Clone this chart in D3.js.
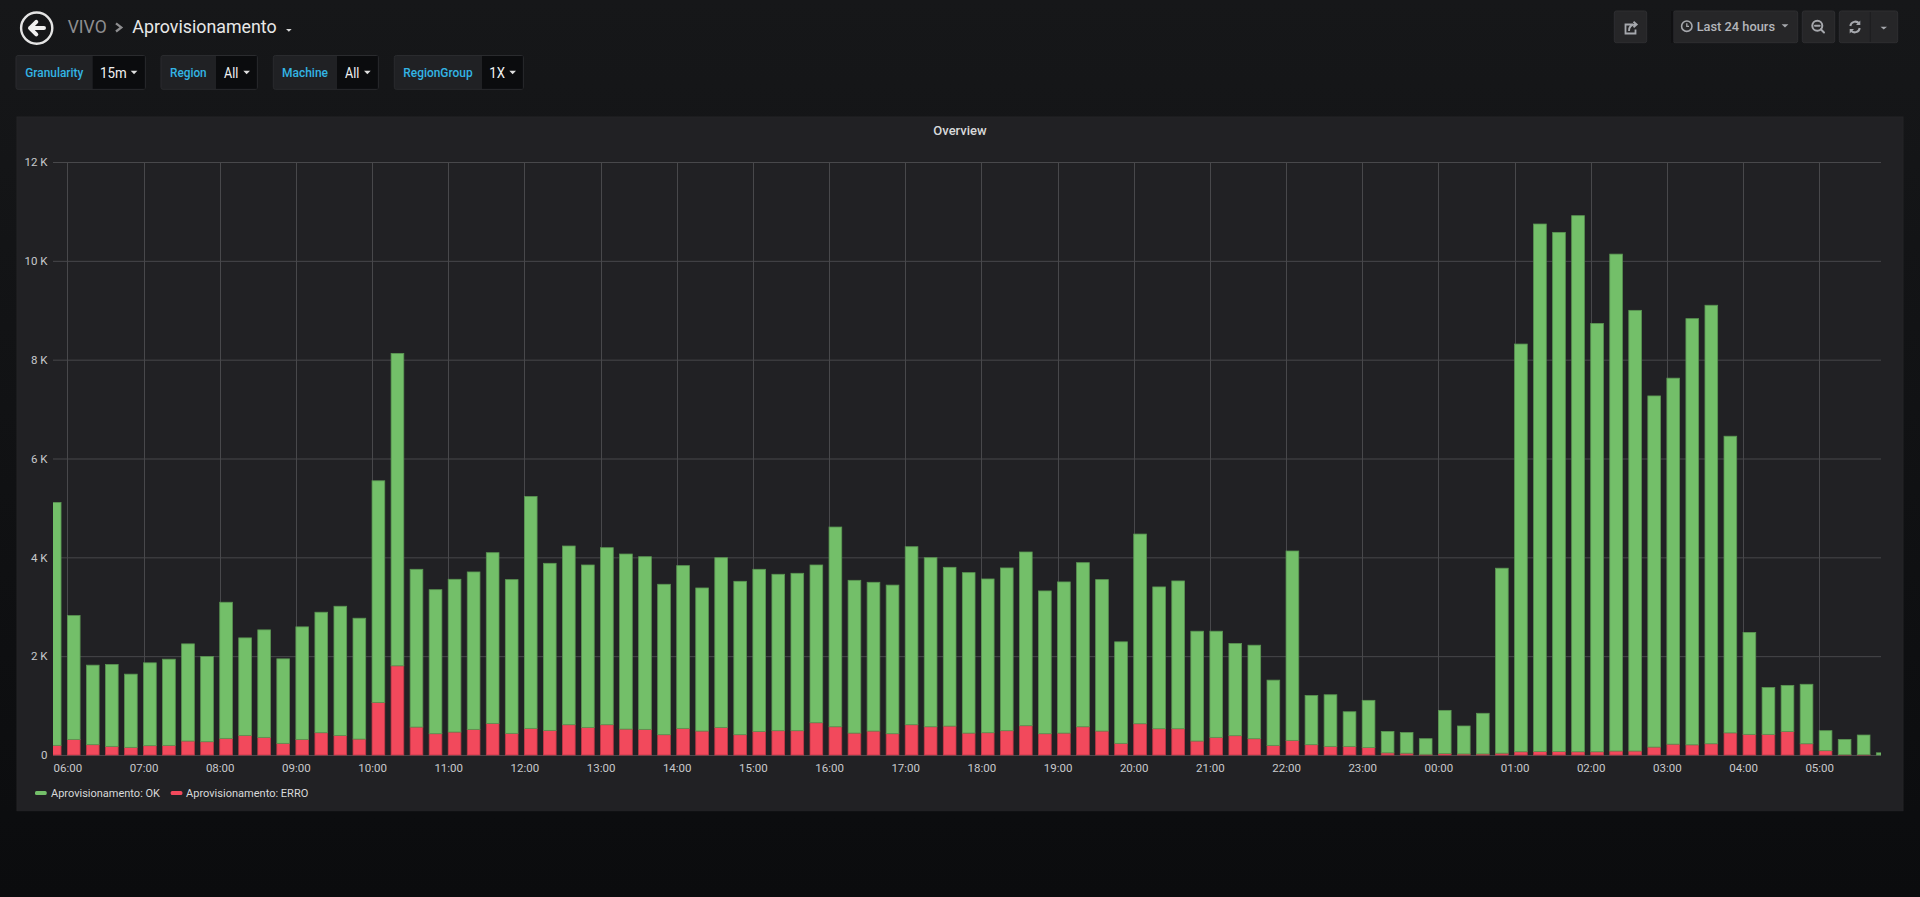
<!DOCTYPE html>
<html><head><meta charset="utf-8">
<script src="https://cdn.jsdelivr.net/npm/d3@7"></script>
<style>
html,body{margin:0;padding:0;background:#0b0c0e;overflow:hidden}
svg{display:block}
text{font-family:Roboto,"Noto Sans",sans-serif}
</style></head><body>
<svg id="c" width="1920" height="897"></svg>
<script>
// ---------------- DATA ----------------
const breadcrumbFolder = "VIVO";
const dashboardTitle = "Aprovisionamento";
const panelTitle = "Overview";
const timeRangeLabel = "Last 24 hours";
const varLabels = ["Granularity", "Region", "Machine", "RegionGroup"];
const varValues = ["15m", "All", "All", "1X"];
const seriesNames = ["Aprovisionamento: OK", "Aprovisionamento: ERRO"];
const seriesColors = ["#73BF69", "#F2495C"];
const startTime = "05:45";        // first 15-minute bucket
const intervalMinutes = 15;
const okValues = [
  4916, 2506, 1609, 1657, 1481, 1676, 1744, 1966, 1724, 2754, 1973, 2175, 1710, 2277, 2438, 2613, 2445,
  4485, 6322, 3192, 2914, 3091, 3185, 3454, 3111, 4693, 3381, 3616, 3286, 3582, 3542, 3494, 3044,
  3293, 2895, 3434, 3104, 3280, 3165, 3185, 3192, 4041, 3091, 3010, 3007, 3602, 3421, 3212, 3246,
  3111, 3293, 3515, 2889, 3058, 3320, 3064, 2054, 3838, 2869, 2990, 2222, 2148, 1865, 1892, 1320,
  3832, 996, 1044, 700, 956, 433, 418, 315, 874, 565, 822, 3743, 8250, 10672, 10503, 10848,
  8668, 10055, 8917, 7105, 7406, 8624, 8873, 6003, 2063, 947, 932, 1203, 404, 309, 397, 44
];
const erroValues = [
  195, 316, 209, 175, 155, 189, 195, 283, 269, 337, 397, 357, 236, 316, 451, 397, 323,
  1064, 1805, 566, 431, 465, 519, 640, 438, 539, 498, 613, 559, 613, 525, 519, 411,
  539, 485, 559, 411, 478, 492, 492, 653, 572, 444, 485, 431, 613, 572, 586, 444,
  451, 492, 593, 431, 444, 572, 485, 236, 633, 532, 532, 283, 357, 391, 330, 195,
  296, 209, 175, 175, 150, 44, 37, 15, 29, 22, 22, 37, 66, 73, 73, 66,
  66, 81, 81, 161, 220, 206, 228, 448, 418, 418, 477, 228, 88, 7, 7, 0
];
const yTicks = [0, 2000, 4000, 6000, 8000, 10000, 12000];
const yTickLabels = ["0", "2 K", "4 K", "6 K", "8 K", "10 K", "12 K"];

// ---------------- DRAW ----------------
const svg = d3.select("#c");
const defs = svg.append("defs");
const grad = defs.append("linearGradient").attr("id", "bg").attr("x1", 0).attr("y1", 0).attr("x2", 0).attr("y2", 1);
grad.append("stop").attr("offset", "0%").attr("stop-color", "#161719");
grad.append("stop").attr("offset", "100%").attr("stop-color", "#0b0c0e");
svg.append("rect").attr("width", 1920).attr("height", 897).attr("fill", "url(#bg)");

function txt(g, x, y, s, o) {
  o = o || {};
  const t = g.append("text").attr("x", x).attr("y", y).text(s)
    .attr("font-size", o.size || 12).attr("fill", o.fill || "#d8d9da")
    .attr("font-weight", o.weight || 400);
  if (o.anchor) t.attr("text-anchor", o.anchor);
  if (o.w) t.attr("textLength", o.w).attr("lengthAdjust", "spacingAndGlyphs");
  return t;
}

// Header
const hdr = svg.append("g");
hdr.append("circle").attr("cx", 36.7).attr("cy", 28.1).attr("r", 15.6)
  .attr("fill", "none").attr("stroke", "#e4e4e4").attr("stroke-width", 2.4);
hdr.append("path").attr("d", "M30,28.1 L44,28.1 M36.3,21.8 L30,28.1 L36.3,34.4")
  .attr("fill", "none").attr("stroke", "#efefef").attr("stroke-width", 4)
  .attr("stroke-linecap", "round").attr("stroke-linejoin", "round");
txt(hdr, 67.7, 32.7, breadcrumbFolder, { size: 17.5, fill: "#8e8e90", w: 39 });
hdr.append("path").attr("d", "M116,23.3 L121.3,27.4 L116,31.5")
  .attr("fill", "none").attr("stroke", "#8e8e90").attr("stroke-width", 2.3);
txt(hdr, 132.3, 32.7, dashboardTitle, { size: 17.5, fill: "#e8e8e8", w: 144.3 });
hdr.append("path").attr("d", "M286,29 L291.7,29 L288.85,31.8 Z").attr("fill", "#d8d9da");

// Variables row
const varBoxes = [
  { lx: 16, vx: 92.7, ex: 145.3, tx: 25.3, tw: 58, valx: 100, valw: 26.7, cx: 130.7 },
  { lx: 161, vx: 216, ex: 257.3, tx: 170, tw: 36.7, valx: 224, valw: 14.3, cx: 243.3 },
  { lx: 273.3, vx: 337, ex: 378.3, tx: 282, tw: 46, valx: 345, valw: 14.3, cx: 364 },
  { lx: 394.3, vx: 482, ex: 523.3, tx: 403.3, tw: 69.3, valx: 489.3, valw: 15.7, cx: 509.3 }
];
const vars = svg.append("g");
varLabels.forEach((lab, i) => {
  const b = varBoxes[i];
  vars.append("rect").attr("x", b.lx).attr("y", 55.5).attr("width", b.ex - b.lx).attr("height", 33.8)
    .attr("rx", 2).attr("fill", "#202124").attr("stroke", "#2a2b2e").attr("stroke-width", 1);
  vars.append("rect").attr("x", b.vx).attr("y", 56).attr("width", b.ex - b.vx - 0.5).attr("height", 32.8)
    .attr("fill", "#0b0c0e");
  txt(vars, b.tx, 77.3, lab, { size: 13, fill: "#33b5e5", weight: 500, w: b.tw });
  txt(vars, b.valx, 78, varValues[i], { size: 14, fill: "#f2f2f2", w: b.valw });
  vars.append("path").attr("d", `M${b.cx},70.8 L${b.cx + 6.7},70.8 L${b.cx + 3.35},74.2 Z`).attr("fill", "#e0e0e0");
});

// Top-right buttons
const btn = svg.append("g");
function button(x0, x1) {
  btn.append("rect").attr("x", x0).attr("y", 11).attr("width", x1 - x0).attr("height", 31.7)
    .attr("rx", 2).attr("fill", "#262628").attr("stroke", "#2e2e31").attr("stroke-width", 1);
}
button(1614.3, 1646.7);
button(1673.3, 1797.7);
btn.append("rect").attr("x", 1671).attr("y", 11).attr("width", 2.3).attr("height", 31.7).attr("fill", "#101012");
button(1802.3, 1834.7);
button(1839.3, 1897.7);
btn.append("line").attr("x1", 1870.3).attr("x2", 1870.3).attr("y1", 12).attr("y2", 42)
  .attr("stroke", "#1d1d1f").attr("stroke-width", 1);
const ic = "#a6a8ad";
// share icon
btn.append("path").attr("d", "M1633,24.5 L1625.5,24.5 L1625.5,33.5 L1635.5,33.5 L1635.5,29.5")
  .attr("fill", "none").attr("stroke", ic).attr("stroke-width", 1.8);
btn.append("path").attr("d", "M1629,31 C1629,26.5 1631.5,24.5 1635.5,24.5 M1633.5,21.8 L1636.7,24.5 L1633.5,27.2")
  .attr("fill", "none").attr("stroke", ic).attr("stroke-width", 1.8);
// clock icon
btn.append("circle").attr("cx", 1686.8).attr("cy", 26.2).attr("r", 5.2).attr("fill", "none").attr("stroke", ic).attr("stroke-width", 1.6);
btn.append("path").attr("d", "M1686.8,23.3 L1686.8,26.4 L1689,26.4").attr("fill", "none").attr("stroke", ic).attr("stroke-width", 1.3);
txt(btn, 1696.7, 30.8, timeRangeLabel, { size: 12.5, fill: "#b3b5ba", weight: 500, w: 78.3 });
btn.append("path").attr("d", "M1781.6,24.2 L1788.4,24.2 L1785,27.6 Z").attr("fill", ic);
// zoom out icon
btn.append("circle").attr("cx", 1817.3).attr("cy", 25.8).attr("r", 5).attr("fill", "none").attr("stroke", ic).attr("stroke-width", 2);
btn.append("path").attr("d", "M1815,25.8 L1819.6,25.8 M1820.8,29.3 L1824,32.5").attr("fill", "none").attr("stroke", ic).attr("stroke-width", 2).attr("stroke-linecap", "round");
// refresh icon
btn.append("path").attr("d", "M1850.3,26 A5,5 0 0 1 1859.2,23.6 M1859.7,28 A5,5 0 0 1 1850.8,30.4")
  .attr("fill", "none").attr("stroke", ic).attr("stroke-width", 2);
btn.append("path").attr("d", "M1860.3,20.6 L1860.3,25 L1856,25 Z M1849.7,33.4 L1849.7,29 L1854,29 Z").attr("fill", ic);
btn.append("path").attr("d", "M1880.5,26.8 L1887,26.8 L1883.75,29.6 Z").attr("fill", ic);

// Panel
svg.append("rect").attr("x", 17).attr("y", 117).attr("width", 1886).attr("height", 693.7)
  .attr("fill", "#212124").attr("stroke", "#242427").attr("stroke-width", 1);
txt(svg, 960, 135.3, panelTitle, { size: 13, weight: 500, anchor: "middle", fill: "#d8d9da" });

// Scales
const [sh, sm] = startTime.split(":").map(Number);
const tFirst = new Date(2020, 0, 1, sh, sm, 0);
const t0 = new Date(2020, 0, 1, 5, 48, 40);
const t1 = d3.timeHour.offset(t0, 24);
const x = d3.scaleTime().domain([t0, t1]).range([53, 1881]);
const y = d3.scaleLinear().domain([0, 12000]).range([755, 162]);

const data = okValues.map((v, i) => ({
  t: d3.timeMinute.offset(tFirst, i * intervalMinutes),
  OK: v, ERRO: erroValues[i]
}));

const plot = svg.append("g");
const gridColor = "#48484b";
// grid
const hours = x.ticks(d3.timeHour.every(1));
plot.append("g").selectAll("line").data(yTicks).join("line")
  .attr("x1", 53).attr("x2", 1881).attr("y1", d => y(d) + 0.5).attr("y2", d => y(d) + 0.5)
  .attr("stroke", gridColor).attr("stroke-width", 1);
plot.append("g").selectAll("line").data(hours).join("line")
  .attr("x1", d => Math.round(x(d)) + 0.5).attr("x2", d => Math.round(x(d)) + 0.5)
  .attr("y1", y(12000)).attr("y2", y(0))
  .attr("stroke", gridColor).attr("stroke-width", 1);

// bars
defs.append("clipPath").attr("id", "clip").append("rect")
  .attr("x", 53).attr("y", 150).attr("width", 1881 - 53).attr("height", 606);
const stack = d3.stack().keys(["ERRO", "OK"]);
const layers = stack(data);
const colorOf = { OK: seriesColors[0], ERRO: seriesColors[1] };
const barG = plot.append("g").attr("clip-path", "url(#clip)");
layers.forEach(layer => {
  const c = colorOf[layer.key];
  barG.append("g").selectAll("rect").data(layer).join("rect")
    .attr("x", d => x(d.data.t))
    .attr("width", d => x(d3.timeMinute.offset(d.data.t, 10)) - x(d.data.t))
    .attr("y", d => y(d[1]))
    .attr("height", d => Math.max(0, y(d[0]) - y(d[1])))
    .attr("fill", c)
    .attr("stroke", d3.color(c).darker(0.7))
    .attr("stroke-width", 0.8);
});

// axes
const fmt = d3.timeFormat("%H:%M");
const xAxis = plot.append("g").attr("transform", "translate(0,755)")
  .call(d3.axisBottom(x).ticks(d3.timeHour.every(1)).tickFormat(fmt).tickSize(0).tickPadding(8.5));
xAxis.select(".domain").remove();
xAxis.selectAll("text").attr("font-size", 11.5).attr("fill", "#c8c9cc").attr("font-family", "Roboto, sans-serif");

const yAxis = plot.append("g").attr("transform", "translate(53,0)")
  .call(d3.axisLeft(y).tickValues(yTicks).tickFormat((d, i) => yTickLabels[i]).tickSize(0).tickPadding(5.5));
yAxis.select(".domain").remove();
yAxis.selectAll("text").attr("font-size", 11.5).attr("fill", "#c8c9cc").attr("font-family", "Roboto, sans-serif");

// legend
const leg = svg.append("g");
const legPos = [{ sx: 35, tx: 51, tw: 109 }, { sx: 170.7, tx: 186, tw: 122.3 }];
seriesNames.forEach((n, i) => {
  const p = legPos[i];
  leg.append("rect").attr("x", p.sx).attr("y", 791).attr("width", 11.7).attr("height", 4)
    .attr("rx", 1.5).attr("fill", seriesColors[i]);
  txt(leg, p.tx, 796.7, n, { size: 11.5, fill: "#d8d9da", w: p.tw });
});
</script>
</body></html>
